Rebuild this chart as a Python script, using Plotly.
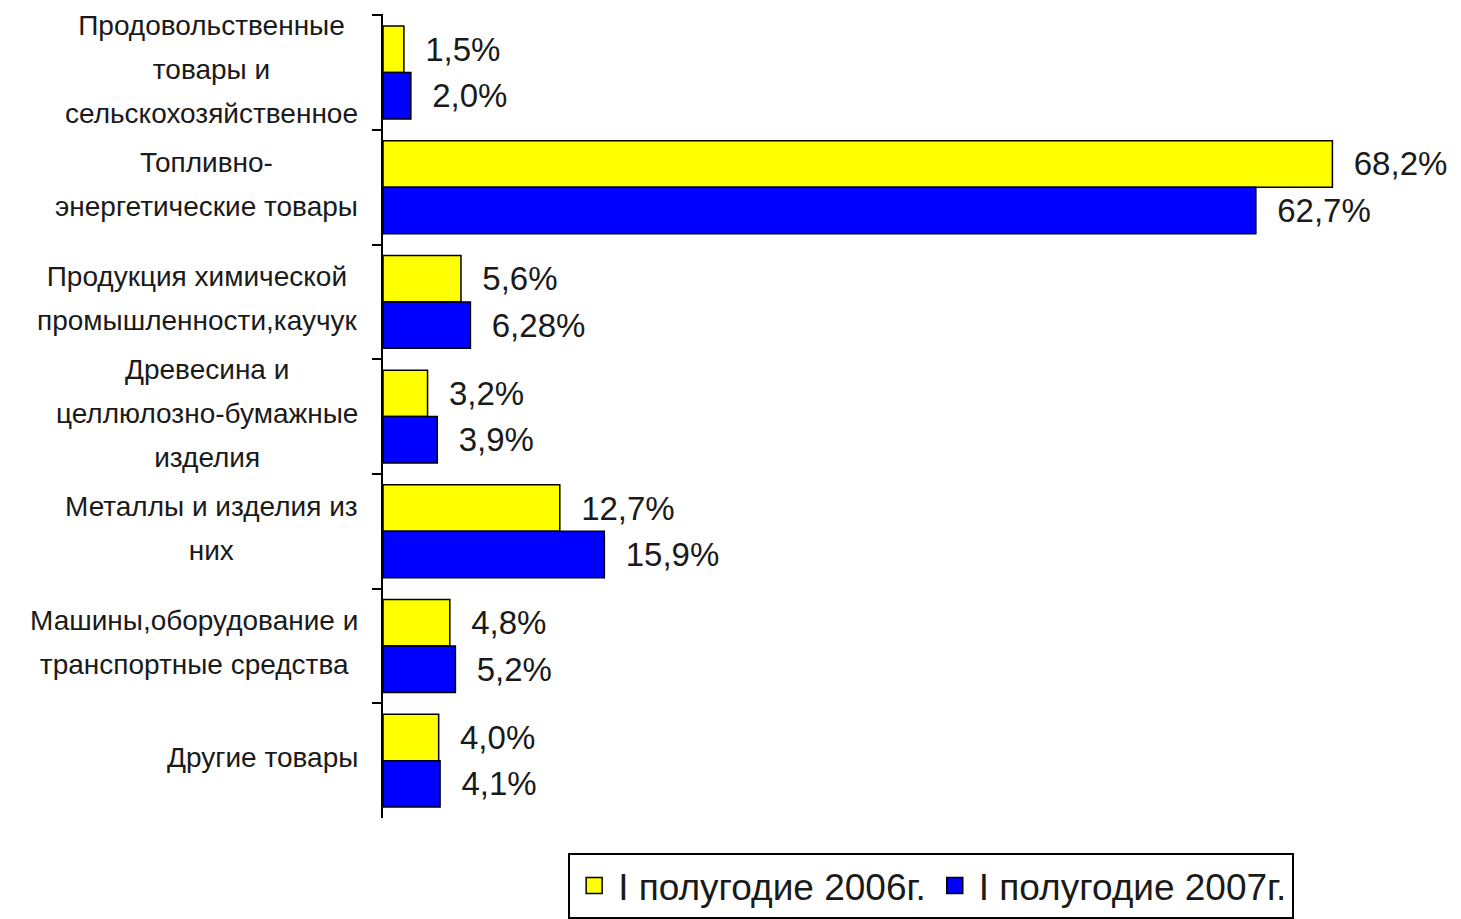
import plotly.graph_objects as go

categories = [
    "Продовольственные товары и сельскохозяйственное",
    "Топливно-энергетические товары",
    "Продукция химической промышленности,каучук",
    "Древесина и целлюлозно-бумажные изделия",
    "Металлы и изделия из них",
    "Машины,оборудование и транспортные средства",
    "Другие товары",
]
category_lines = [
    ["Продовольственные", "товары и", "сельскохозяйственное"],
    ["Топливно-", "энергетические товары"],
    ["Продукция химической", "промышленности,каучук"],
    ["Древесина и", "целлюлозно-бумажные", "изделия"],
    ["Металлы и изделия из", "них"],
    ["Машины,оборудование и", "транспортные средства"],
    ["Другие товары"],
]
series_names = ["I полугодие 2006г.", "I полугодие 2007г."]
values_2006 = [1.5, 68.2, 5.6, 3.2, 12.7, 4.8, 4.0]
values_2007 = [2.0, 62.7, 6.28, 3.9, 15.9, 5.2, 4.1]
labels_2006 = ["1,5%", "68,2%", "5,6%", "3,2%", "12,7%", "4,8%", "4,0%"]
labels_2007 = ["2,0%", "62,7%", "6,28%", "3,9%", "15,9%", "5,2%", "4,1%"]
colors = ["#FFFF00", "#0000FF"]

FONT = "Liberation Sans, Arial, sans-serif"
TXT = "#1a1a1a"

fig = go.Figure()
for name, vals, labs, color in [
    (series_names[0], values_2006, labels_2006, colors[0]),
    (series_names[1], values_2007, labels_2007, colors[1]),
]:
    fig.add_trace(go.Bar(
        y=categories, x=vals, orientation="h", name=name,
        marker=dict(color=color, line=dict(color="black", width=1.5)),
        text=["\u00a0\u00a0" + t for t in labs],
        textposition="outside", constraintext="none", cliponaxis=False,
        textfont=dict(family=FONT, size=33, color=TXT),
        hoverinfo="skip", showlegend=False,
    ))

# legend entries with larger square symbols
for name, color in zip(series_names, colors):
    fig.add_trace(go.Scatter(
        x=[None], y=[None], mode="markers", name=name,
        marker=dict(symbol="square", size=20, color=color,
                    line=dict(color="black", width=1.5)),
        showlegend=True, hoverinfo="skip",
    ))

annotations = []
for cat, lines in zip(categories, category_lines):
    txt = "<br>".join(f'<span style="font-size:28px">{l}</span>' for l in lines)
    annotations.append(dict(
        x=0, xref="paper", xanchor="right", xshift=-23,
        y=cat, yref="y", yanchor="middle", yshift=3,
        text=txt, showarrow=False, align="center",
        font=dict(family=FONT, size=34, color=TXT),
    ))

fig.update_layout(
    width=1461, height=919,
    margin=dict(l=375, r=28, t=6, b=109, autoexpand=False),
    paper_bgcolor="white", plot_bgcolor="white",
    barmode="group", bargap=0.19, bargroupgap=0,
    showlegend=True,
    legend=dict(
        orientation="h", x=0.175, xanchor="left", y=-0.0435, yanchor="top",
        font=dict(family=FONT, size=37, color=TXT),
        bordercolor="black", borderwidth=2, bgcolor="white",
        itemwidth=38,
    ),
    xaxis=dict(range=[0, 76], visible=False, showgrid=False, zeroline=False),
    yaxis=dict(
        type="category", categoryorder="array", categoryarray=categories,
        autorange="reversed", showticklabels=False, showgrid=False,
        showline=True, linecolor="black", linewidth=2,
        ticks="outside", tickson="boundaries", ticklen=9, tickwidth=2, tickcolor="black",
    ),
    annotations=annotations,
)

fig.write_html("out.html")
